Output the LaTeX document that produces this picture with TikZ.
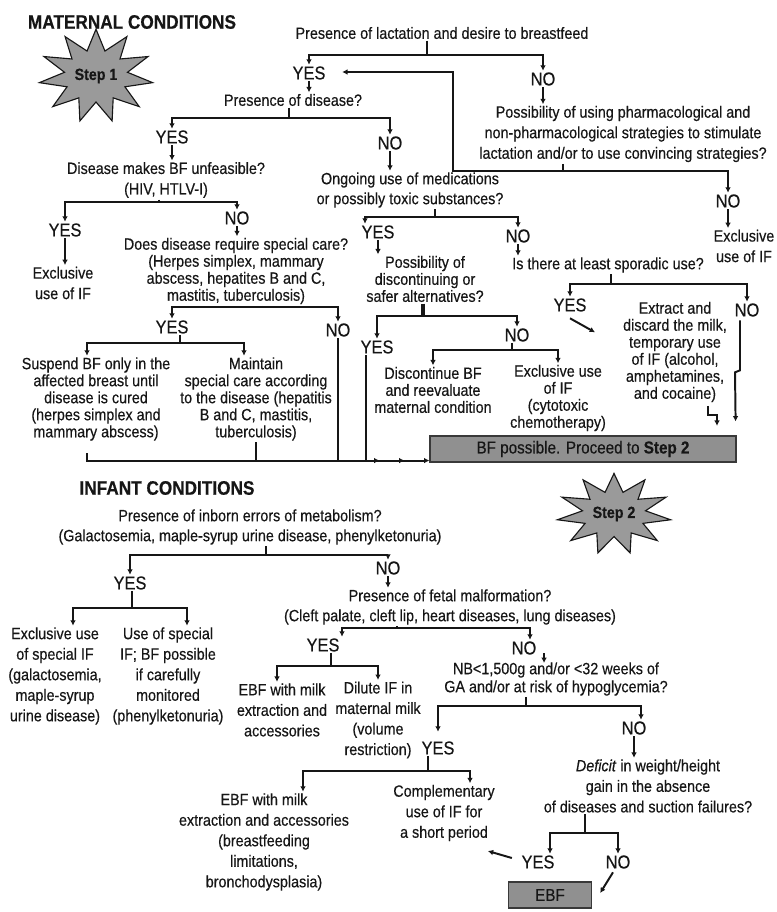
\documentclass[tikz,border=0pt]{standalone}
\usepackage{fontspec}
\setmainfont{Liberation Sans}[FakeStretch=0.88, FakeBold=0.4]
\usepackage{tikz}
\usetikzlibrary{shapes.geometric,arrows.meta,calc}
\definecolor{ink}{HTML}{161616}
\definecolor{burstgray}{HTML}{9A9A9A}
\definecolor{boxgray}{HTML}{909090}

\begin{document}
\begin{tikzpicture}[
  x=0.025cm, y=-0.025cm,
  txt/.style={font=\fontsize{11.6}{#1}\selectfont, align=center, inner sep=1pt, text=ink},
  txt/.default=14.6,
  yn/.style={font=\fontsize{13.3}{14}\selectfont, inner sep=1pt, text=ink},
  head/.style={font=\bfseries\fontsize{13.9}{15}\selectfont, text=ink},
  burst/.style={star, star points=11, star point ratio=1.8, minimum size=2.6cm, draw=ink, fill=burstgray, line width=0.8pt},
  steptxt/.style={font=\bfseries\fontsize{11.5}{13}\selectfont, text=ink},
  gbox/.style={rectangle, draw=ink!85, fill=boxgray, line width=0.8pt, font=\fontsize{12.3}{14}\selectfont, text=ink},
  link/.style={line width=1.4pt, draw=ink},
  arrow/.style={-{Latex[length=3.8pt,width=4pt]}, line width=1.4pt, draw=ink}
]
\useasboundingbox (0,0) rectangle (776,912);

% maternal conditions
\node[head] (mtitle) at (132,22) {MATERNAL CONDITIONS};
\node[burst, xscale=1.1, yscale=0.9, transform shape] (star1) at (96,76) {};
\node[steptxt] (step1) at (star1) {Step 1};
\node[txt] (lac) at (442,33) {Presence of lactation and desire to breastfeed};
\node[yn] (yesA) at (309,73) {YES};
\node[yn] (noA) at (543,79) {NO};
\node[txt] (pharm) at (623,134) {Possibility of using pharmacological and\\non-pharmacological strategies to stimulate\\lactation and/or to use convincing strategies?};
\node[yn] (noB) at (728,201) {NO};
\node[txt] (ifA) at (744,246) {Exclusive\\use of IF};
\node[txt] (dis) at (293,100) {Presence of disease?};
\node[yn] (yesC) at (172,137) {YES};
\node[yn] (noC) at (390,143) {NO};
\node[txt] (unf) at (166,180) {Disease makes BF unfeasible?\\(HIV, HTLV-I)};
\node[yn] (yesD) at (65,230) {YES};
\node[yn] (noD) at (237,218) {NO};
\node[txt] (ifB) at (63,283) {Exclusive\\use of IF};
\node[txt=12.1] (care) at (236,271) {Does disease require special care?\\(Herpes simplex, mammary\\abscess, hepatites B and C,\\mastitis, tuberculosis)};
\node[yn] (yesE) at (172,327) {YES};
\node[yn] (noE) at (338,330) {NO};
\node[txt=12.1] (susp) at (96,399) {Suspend BF only in the\\affected breast until\\disease is cured\\(herpes simplex and\\mammary abscess)};
\node[txt=12.1] (maint) at (256,399) {Maintain\\special care according\\to the disease (hepatitis\\B and C, mastitis,\\tuberculosis)};
\node[txt=14.2] (med) at (410,190) {Ongoing use of medications\\or possibly toxic substances?};
\node[yn] (yesF) at (378,232) {YES};
\node[yn] (noF) at (518,236) {NO};
\node[txt=12.1] (alt) at (425,279) {Possibility of\\discontinuing or\\safer alternatives?};
\node[yn] (yesG) at (377,347) {YES};
\node[yn] (noG) at (517,335) {NO};
\node[txt=12.1] (disc) at (433,390) {Discontinue BF\\and reevaluate\\maternal condition};
\node[txt=12.1] (ifC) at (558,398) {Exclusive use\\of IF\\(cytotoxic\\chemotherapy)};
\node[txt] (spor) at (608,265) {Is there at least sporadic use?};
\node[yn] (yesH) at (570,305) {YES};
\node[yn] (noH) at (747,310) {NO};
\node[txt=12.1] (extr) at (675,352) {Extract and\\discard the milk,\\temporary use\\of IF (alcohol,\\amphetamines,\\and cocaine)};
\node[gbox, minimum width=7.65cm, minimum height=0.65cm] (bfok) at (583,449) {BF possible. Proceed to \textbf{Step 2}};

\coordinate (jA) at (427,55);
\draw[link] (lac.south -| jA) -- (jA);
\draw[arrow] (jA) -| (yesA.north);
\draw[arrow] (jA) -| (noA.north);
\draw[arrow] (noA.south) -- (noA.south |- pharm.north);
\coordinate (jB) at (563,171);
\coordinate (loop) at (453,72);
\draw[link] (pharm.south -| jB) -- (jB);
\draw[arrow] (jB) -| (noB.north);
\draw[arrow] (jB) -| (loop) -- ($(yesA.east |- loop)+(15,0)$);
\draw[arrow] (noB.south) -- (noB.south |- ifA.north);
\draw[arrow] (yesA.south) -- (yesA.south |- dis.north);
\coordinate (jC) at (289,118);
\draw[link] (dis.south -| jC) -- (jC);
\draw[arrow] (jC) -| (yesC.north);
\draw[arrow] (jC) -| (noC.north);
\draw[arrow] (yesC.south) -- (yesC.south |- unf.north);
\draw[arrow] (noC.south) -- (noC.south |- med.north);
\coordinate (jD) at (159,202);
\draw[link] (unf.south -| jD) -- (jD);
\draw[arrow] (jD) -| (yesD.north);
\draw[arrow] (jD) -| (noD.north);
\draw[arrow] (yesD.south) -- (yesD.south |- ifB.north);
\draw[arrow] (noD.south) -- (noD.south |- care.north);
\coordinate (jE) at (262,307);
\draw[link] (care.south -| jE) -- (jE);
\draw[arrow] (jE) -| (yesE.north);
\draw[arrow] (jE) -| (noE.north);
\coordinate (jF) at (180,343);
\draw[link] (yesE.south -| jF) -- (jF);
\draw[arrow] (jF) -| ($(susp.north)+(-9,0)$);
\draw[arrow] (jF) -| ($(maint.north)+(-12,0)$);
\coordinate (bin) at ($(bfok.south west)+(0,-2)$);
\draw[arrow] ($(susp.south)+(-9,11)$) |- (bin);
\draw[link] (maint.south) -- (maint.south |- bin);
\draw[arrow] (noE.south) |- ($(bin)+(-50,0)$);
\draw[arrow] ($(yesG.south)+(-11,0)$) |- ($(bin)+(-25,0)$);
\coordinate (jG) at (435,217);
\draw[link] (med.south -| jG) -- (jG);
\draw[arrow] (jG) -| ($(yesF.north)+(-13,0)$);
\draw[arrow] (jG) -| (noF.north);
\draw[arrow] (yesF.south) -- (yesF.south |- alt.north);
\draw[arrow] (noF.south) -- (noF.south |- spor.north);
\coordinate (jH) at (423,316);
\draw[link, line width=2.5pt] (alt.south -| jH) -- (jH);
\draw[arrow] (jH) -| (yesG.north);
\draw[arrow] (jH) -| (noG.north);
\coordinate (jI) at (512,350);
\draw[link] (noG.south -| jI) -- (jI);
\draw[arrow] (jI) -| (disc.north);
\draw[arrow] (jI) -| (ifC.north);
\coordinate (jJ) at (611,284);
\draw[link] (spor.south -| jJ) -- (jJ);
\draw[arrow] (jJ) -| (yesH.north);
\draw[arrow] (jJ) -| (noH.north);
\draw[arrow] ($(yesH.south)+(0,5)$) -- ++(25,14);
\draw[arrow] ($(extr.south)+(33,2)$) -- ++(0,9) -- ++(9,0) -- ++(0,11);
\draw[arrow] ($(noH.south)+(-7,2)$) -- ++(0,50) -- ++(-5,2) -- ($(bfok.north east)+(-1,-14)$);

% infant conditions
\node[head] (ititle) at (167,488) {INFANT CONDITIONS};
\node[burst, xscale=1.1, yscale=0.78, transform shape] (star2) at (614,514) {};
\node[steptxt] (step2) at (star2) {Step 2};
\node[txt=14.2] (inb) at (250,527) {Presence of inborn errors of metabolism?\\(Galactosemia, maple-syrup urine disease, phenylketonuria)};
\node[yn] (yesK) at (130,583) {YES};
\node[yn] (noK) at (388,568) {NO};
\node[txt] (exsp) at (55,676) {Exclusive use\\of special IF\\(galactosemia,\\maple-syrup\\urine disease)};
\node[txt] (usesp) at (168,676) {Use of special\\IF; BF possible\\if carefully\\monitored\\(phenylketonuria)};
\node[txt=14.2] (fet) at (450,607) {Presence of fetal malformation?\\(Cleft palate, cleft lip, heart diseases, lung diseases)};
\node[yn] (yesM) at (323,645) {YES};
\node[yn] (noM) at (524,648) {NO};
\node[txt] (ebfA) at (282,710) {EBF with milk\\extraction and\\accessories};
\node[txt] (dil) at (378,720) {Dilute IF in\\maternal milk\\(volume\\restriction)};
\node[txt=12.8] (nb) at (556,679) {NB<1,500g and/or <32 weeks of\\GA and/or at risk of hypoglycemia?};
\node[yn] (yesO) at (438,748) {YES};
\node[yn] (noO) at (634,728) {NO};
\node[txt] (def) at (648,786) {\textit{Deficit} in weight/height\\gain in the absence\\of diseases and suction failures?};
\node[yn] (yesP) at (538,862) {YES};
\node[yn] (noP) at (618,862) {NO};
\node[txt] (ebfB) at (264,842) {EBF with milk\\extraction and accessories\\(breastfeeding\\limitations,\\bronchodysplasia)};
\node[txt] (comp) at (444,813) {Complementary\\use of IF for\\a short period};
\node[gbox, minimum width=2.08cm, minimum height=0.65cm] (ebfbox) at (550,895) {EBF};

\coordinate (jK) at (266,555);
\draw[link] (inb.south -| jK) -- (jK);
\draw[arrow] (jK) -| (yesK.north);
\draw[arrow] (jK) -| (noK.north);
\draw[arrow] (noK.south) -- (noK.south |- fet.north);
\coordinate (jL) at (132,608);
\draw[link] (yesK.south -| jL) -- (jL);
\draw[arrow] (jL) -| ($(exsp.north)+(18,0)$);
\draw[arrow] (jL) -| ($(usesp.north)+(19,0)$);
\coordinate (jM) at (397,628);
\draw[link] (fet.south -| jM) -- (jM);
\draw[arrow] (jM) -| ($(yesM.north)+(19,0)$);
\draw[arrow] (jM) -| ($(noM.north)+(6,0)$);
\coordinate (jN) at (331,666);
\draw[link] (yesM.south -| jN) -- (jN);
\draw[arrow] (jN) -| ($(ebfA.north)+(-5,0)$);
\draw[arrow] (jN) -| (dil.north);
\draw[arrow] ($(noM.east)+(6,5)$) -- ++(0,10);
\coordinate (jO) at (526,706);
\draw[link] (nb.south -| jO) -- (jO);
\draw[arrow] (jO) -| ($(yesO.north)+(0,-8)$);
\draw[arrow] (jO) -| ($(noO.north)+(7,0)$);
\draw[arrow] (noO.south) -- (noO.south |- def.north);
\coordinate (jP) at (585,833);
\draw[link] (def.south -| jP) -- (jP);
\draw[arrow] (jP) -| ($(yesP.north)+(12,0)$);
\draw[arrow] (jP) -| (noP.north);
\draw[arrow] ($(yesP.west)+(-8,-4)$) -- ++(-24,-7);
\draw[arrow] ($(noP.south)+(-5,2)$) -- ($(ebfbox.east)+(8,-2)$);
\coordinate (jQ) at (428,771);
\draw[link] (yesO.south -| jQ) -- (jQ);
\draw[arrow] (jQ) -| ($(ebfB.north)+(39,0)$);
\draw[arrow] (jQ) -| ($(comp.north)+(26,0)$);
\end{tikzpicture}
\end{document}
